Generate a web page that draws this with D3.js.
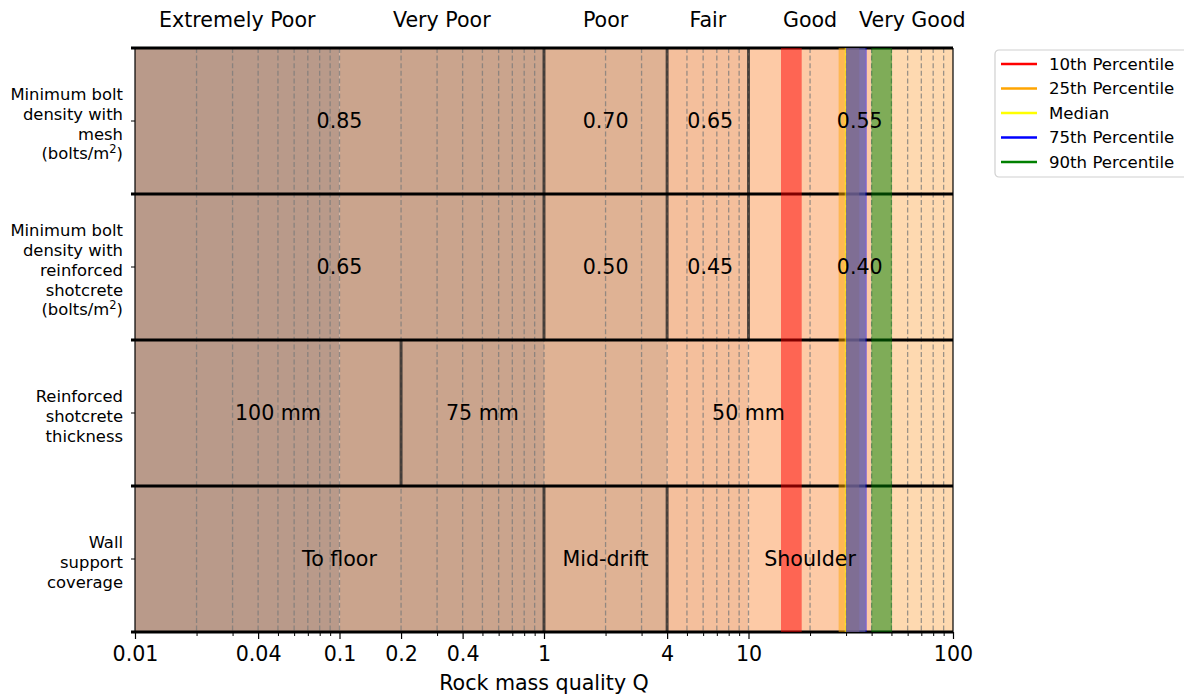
<!DOCTYPE html>
<html>
<head>
<meta charset="utf-8">
<script src="https://cdn.jsdelivr.net/npm/d3@7"></script>
<style>
  body { margin: 0; background: #fff; }
  svg { display: block; font-family: "DejaVu Sans", sans-serif; }
</style>
</head>
<body>
<svg id="chart" width="1184" height="695"></svg>
<script>
// Rock mass quality classes (Q system) and their Q bounds
const qClasses = ["Extremely Poor", "Very Poor", "Poor", "Fair", "Good", "Very Good"];
const qClassBounds = [0.01, 0.1, 1, 4, 10, 40, 100];
const qClassColors = ["#b99a8a", "#caa48d", "#dfb294", "#f4bf9c", "#fdcaa6", "#fed9b0"];

// Support requirement rows, top to bottom (last entry of a line may carry a superscript)
const rowLabels = [
  ["Minimum bolt", "density with", "mesh", ["(bolts/m", "2", ")"]],
  ["Minimum bolt", "density with", "reinforced", "shotcrete", ["(bolts/m", "2", ")"]],
  ["Reinforced", "shotcrete", "thickness"],
  ["Wall", "support", "coverage"]
];

// Q values where each row changes requirement
const rowDividers = [
  [1, 4, 10],
  [1, 4, 10],
  [0.2],
  [1, 4]
];

// Requirement text for each row and the Q where each text sits
const meshDensity = ["0.85", "0.70", "0.65", "0.55"];
const meshDensityQ = [0.1, 2, 6.5, 35];
const shotcreteDensity = ["0.65", "0.50", "0.45", "0.40"];
const shotcreteDensityQ = [0.1, 2, 6.5, 35];
const shotcreteThickness = ["100 mm", "75 mm", "50 mm"];
const shotcreteThicknessQ = [0.05, 0.5, 10];
const wallCoverage = ["To floor", "Mid-drift", "Shoulder"];
const wallCoverageQ = [0.1, 2, 20];

// Percentiles of observed Q
const percentileNames = ["10th Percentile", "25th Percentile", "Median", "75th Percentile", "90th Percentile"];
const percentileQ = [16.2, 31.0, 33.2, 33.7, 44.8];
const percentileColors = ["red", "orange", "yellow", "blue", "green"];

// X axis ticks
const xTickValues = [0.01, 0.04, 0.1, 0.2, 0.4, 1, 4, 10, 100];
const xTickLabels = ["0.01", "0.04", "0.1", "0.2", "0.4", "1", "4", "10", "100"];

const rowTexts = [meshDensity, shotcreteDensity, shotcreteThickness, wallCoverage];
const rowTextQ = [meshDensityQ, shotcreteDensityQ, shotcreteThicknessQ, wallCoverageQ];

const margin = { left: 135, right: 231, top: 48, bottom: 63 };
const W = 1184, H = 695;
const innerW = W - margin.left - margin.right;
const innerH = H - margin.top - margin.bottom;
const bigFont = 20.6;

const svg = d3.select("#chart");
const g = svg.append("g").attr("transform", `translate(${margin.left},${margin.top})`);

const x = d3.scaleLog().domain([0.01, 100]).range([0, innerW]);
const y = d3.scaleBand().domain(d3.range(rowLabels.length)).range([0, innerH]).padding(0);

// Quality class columns
g.selectAll("rect.qclass")
  .data(qClasses)
  .join("rect")
  .attr("class", "qclass")
  .attr("x", (d, i) => x(qClassBounds[i]))
  .attr("width", (d, i) => x(qClassBounds[i + 1]) - x(qClassBounds[i]))
  .attr("y", 0)
  .attr("height", innerH)
  .attr("fill", (d, i) => qClassColors[i]);

// Dashed grid at every 1..9 x decade
const gridValues = [];
[0.01, 0.1, 1, 10].forEach(dec => {
  for (let k = 1; k <= 9; k++) gridValues.push(+(dec * k).toPrecision(3));
});
g.selectAll("line.grid")
  .data(gridValues.filter(v => v > 0.01))
  .join("line")
  .attr("class", "grid")
  .attr("x1", d => x(d)).attr("x2", d => x(d))
  .attr("y1", 0).attr("y2", innerH)
  .attr("stroke", "#7a7a7a")
  .attr("stroke-opacity", 0.75)
  .attr("stroke-width", 1.3)
  .attr("stroke-dasharray", "5,2.6");

// Requirement dividers within each row
rowDividers.forEach((divs, r) => {
  g.selectAll(`line.div${r}`)
    .data(divs)
    .join("line")
    .attr("x1", d => x(d)).attr("x2", d => x(d))
    .attr("y1", y(r)).attr("y2", y(r) + y.bandwidth())
    .attr("stroke", "#222")
    .attr("stroke-opacity", 0.75)
    .attr("stroke-width", 3);
});

// Row boundaries
const rowEdges = d3.range(rowLabels.length + 1).map(i => i * y.bandwidth());
g.selectAll("line.rowedge")
  .data(rowEdges)
  .join("line")
  .attr("x1", -4).attr("x2", innerW)
  .attr("y1", d => d).attr("y2", d => d)
  .attr("stroke", "#000")
  .attr("stroke-width", 3);

// Percentile bands
g.selectAll("line.pct")
  .data(percentileQ)
  .join("line")
  .attr("x1", d => x(d)).attr("x2", d => x(d))
  .attr("y1", 0).attr("y2", innerH)
  .attr("stroke", (d, i) => percentileColors[i])
  .attr("stroke-opacity", 0.5)
  .attr("stroke-width", 20.7);

// Requirement texts
rowTexts.forEach((texts, r) => {
  g.selectAll(`text.val${r}`)
    .data(texts)
    .join("text")
    .attr("x", (d, i) => x(rowTextQ[r][i]))
    .attr("y", y(r) + y.bandwidth() / 2)
    .attr("dy", "0.35em")
    .attr("text-anchor", "middle")
    .attr("font-size", bigFont)
    .attr("fill", "#000")
    .text(d => d);
});

// Quality class names above the plot
g.selectAll("text.qname")
  .data(qClasses)
  .join("text")
  .attr("x", (d, i) => x(Math.sqrt(qClassBounds[i] * qClassBounds[i + 1])))
  .attr("y", -28)
  .attr("dy", "0.35em")
  .attr("text-anchor", "middle")
  .attr("font-size", bigFont)
  .text(d => d);

// Frame: left and right spines
g.append("line").attr("x1", 0).attr("x2", 0).attr("y1", 0).attr("y2", innerH)
  .attr("stroke", "#000").attr("stroke-width", 1.2);
g.append("line").attr("x1", innerW).attr("x2", innerW).attr("y1", 0).attr("y2", innerH)
  .attr("stroke", "#000").attr("stroke-width", 1.2);

// X axis
const minorTicks = gridValues.filter(v => !xTickValues.some(t => Math.abs(t - v) < 1e-9));
const xAxisMinor = d3.axisBottom(x).tickValues(minorTicks).tickSize(4).tickFormat("");
const xAxis = d3.axisBottom(x).tickValues(xTickValues).tickSize(7).tickPadding(7)
  .tickFormat((d, i) => xTickLabels[i]);
const gxm = g.append("g").attr("transform", `translate(0,${innerH})`).call(xAxisMinor);
gxm.select(".domain").remove();
gxm.selectAll("line").attr("stroke", "#000").attr("stroke-width", 1);
const gx = g.append("g").attr("transform", `translate(0,${innerH})`).call(xAxis);
gx.select(".domain").remove();
gx.selectAll("line").attr("stroke", "#000").attr("stroke-width", 1.2);
gx.selectAll("text").attr("font-size", bigFont).attr("fill", "#000")
  .attr("font-family", "DejaVu Sans, sans-serif");

g.append("text")
  .attr("x", innerW / 2)
  .attr("y", innerH + 51)
  .attr("dy", "0.35em")
  .attr("text-anchor", "middle")
  .attr("font-size", bigFont)
  .text("Rock mass quality Q");

// Y axis row labels
const yAxis = g.append("g");
rowLabels.forEach((lines, r) => {
  const cy = y(r) + y.bandwidth() / 2;
  yAxis.append("line").attr("x1", -4).attr("x2", 0).attr("y1", cy).attr("y2", cy)
    .attr("stroke", "#000").attr("stroke-width", 1);
  const lh = 19.8;
  const t = yAxis.append("text")
    .attr("x", -12)
    .attr("y", cy - (lines.length - 1) * lh / 2 + 3)
    .attr("text-anchor", "end")
    .attr("font-size", 16.4)
    .attr("fill", "#000");
  lines.forEach((ln, k) => {
    const dy = k === 0 ? "0.35em" : lh;
    if (Array.isArray(ln)) {
      t.append("tspan").attr("x", -12).attr("dy", dy).text(ln[0]);
      t.append("tspan").attr("dy", -6).attr("font-size", 11.5).text(ln[1]);
      t.append("tspan").attr("dy", 6).text(ln[2]);
    } else {
      t.append("tspan").attr("x", -12).attr("dy", dy).text(ln);
    }
  });
});

// Legend
const lg = svg.append("g").attr("transform", "translate(995,50)");
lg.append("rect")
  .attr("width", 200).attr("height", 127)
  .attr("rx", 4)
  .attr("fill", "#fff").attr("fill-opacity", 0.8)
  .attr("stroke", "#d0d0d0").attr("stroke-width", 1.2);
percentileNames.forEach((name, i) => {
  const cy = 14 + i * 24.5;
  lg.append("line").attr("x1", 6).attr("x2", 42).attr("y1", cy).attr("y2", cy)
    .attr("stroke", percentileColors[i]).attr("stroke-width", 2.5);
  lg.append("text").attr("x", 54).attr("y", cy).attr("dy", "0.35em")
    .attr("font-size", 16.6).text(name);
});
</script>
</body>
</html>
